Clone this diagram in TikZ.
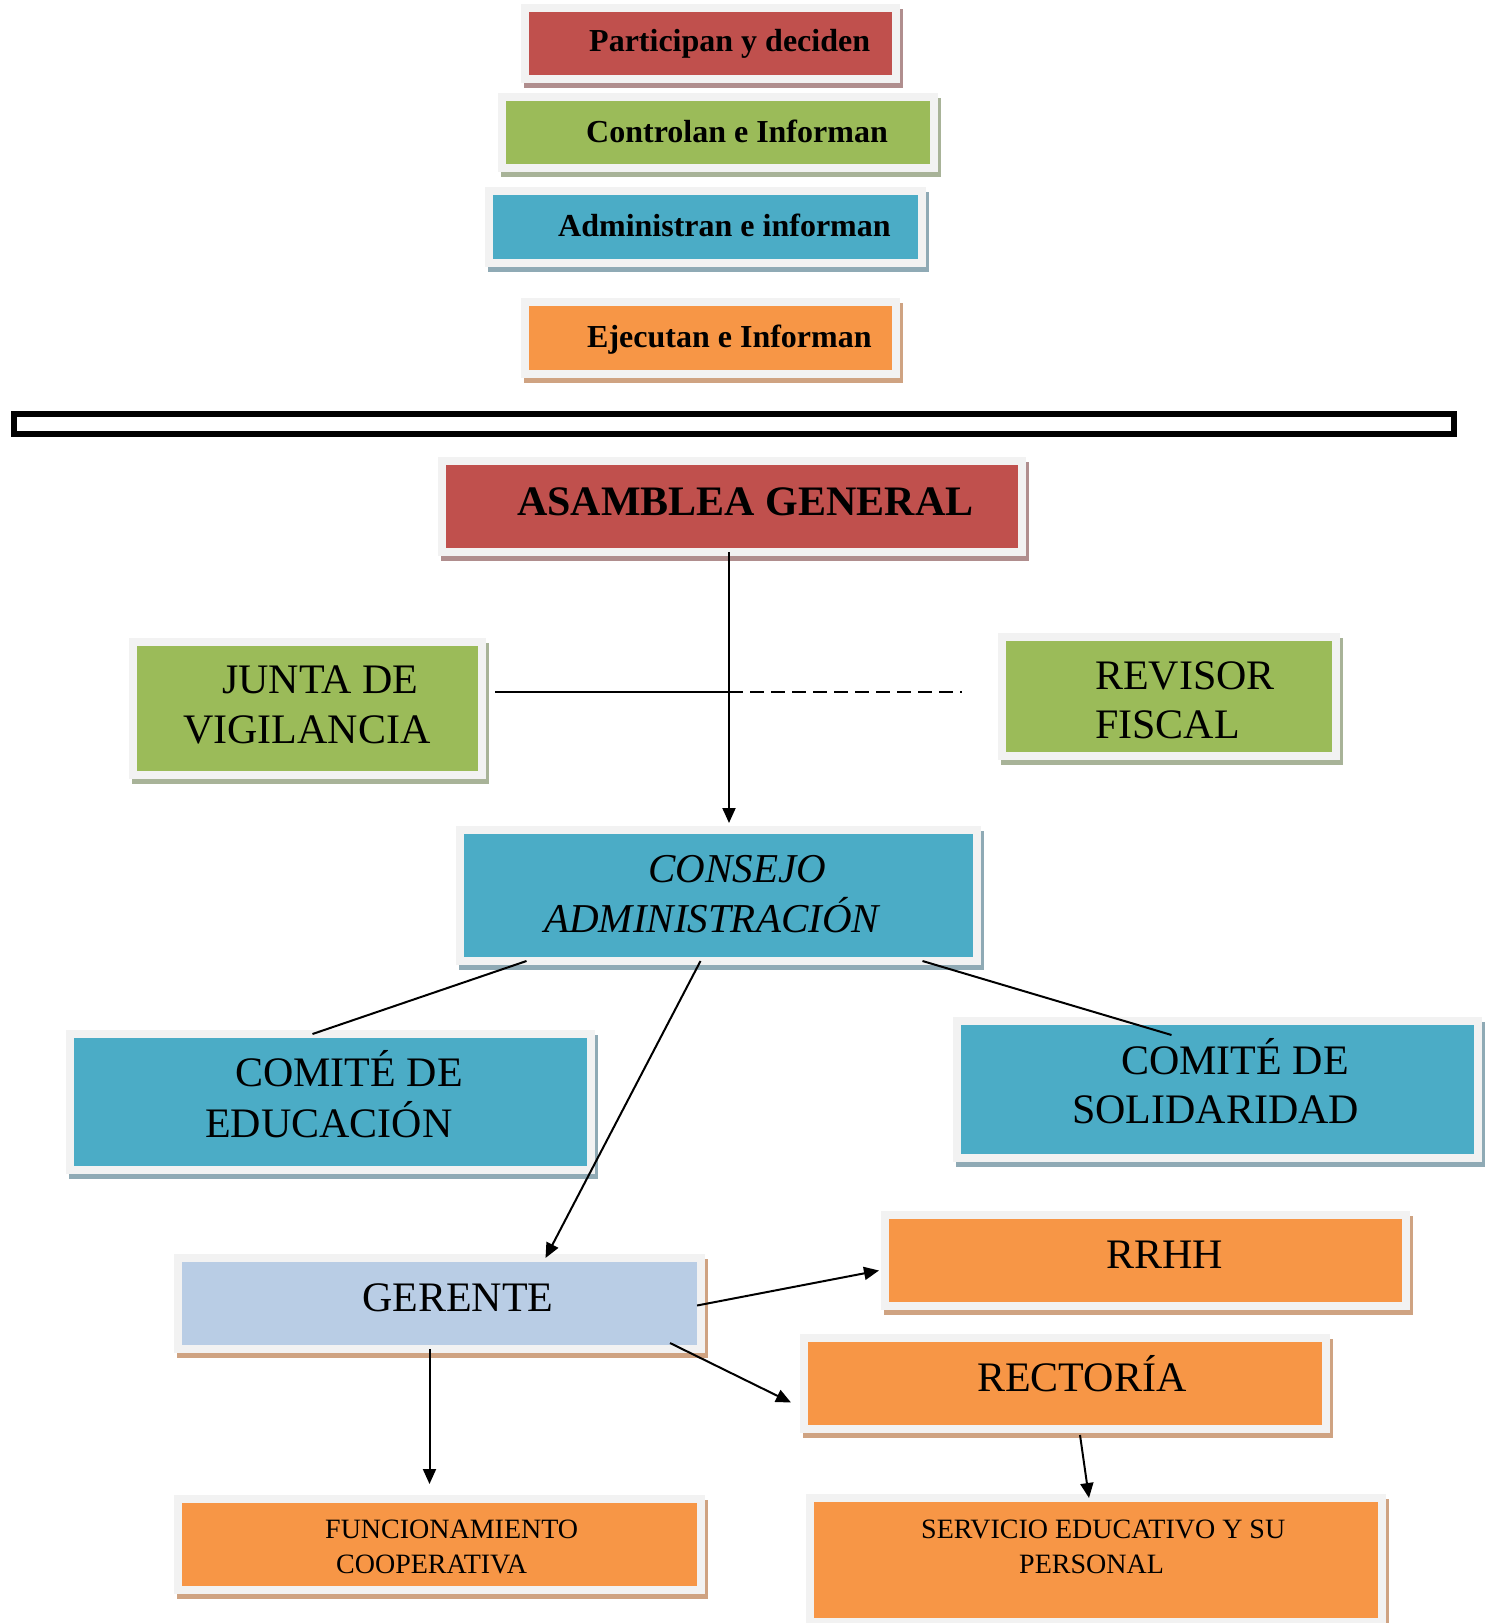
\documentclass[tikz,border=0pt]{standalone}
\usepackage{fontspec}
\setmainfont{Liberation Serif}
\usetikzlibrary{shadows,arrows.meta}

\definecolor{marco}{HTML}{F2F2F2}
\definecolor{rojo}{HTML}{C0504D}
\definecolor{rojosombra}{HTML}{B08E8E}
\definecolor{verde}{HTML}{9BBB59}
\definecolor{verdesombra}{HTML}{A8B398}
\definecolor{azul}{HTML}{4BACC6}
\definecolor{azulsombra}{HTML}{8FAAB5}
\definecolor{naranja}{HTML}{F79646}
\definecolor{naranjasombra}{HTML}{CFA382}
\definecolor{celeste}{HTML}{B9CDE5}

\tikzset{
  caja/.style 2 args={fill=#1, draw=marco, line width=8bp, inner sep=0pt, outer sep=0pt,
    drop shadow={shadow xshift=3bp, shadow yshift=-5bp, fill=#2, draw=#2, line width=8bp, opacity=1}},
  leyenda/.style={anchor=base west, inner sep=0pt, font=\fontsize{32bp}{38bp}\selectfont\bfseries},
  texto/.style={anchor=base west, inner sep=0pt, font=\fontsize{42bp}{50bp}\selectfont},
  cursiva/.style={anchor=base west, inner sep=0pt, font=\fontsize{41bp}{49bp}\selectfont\itshape},
  textito/.style={anchor=base west, inner sep=0pt, font=\fontsize{28bp}{34bp}\selectfont},
  linea/.style={line width=2bp},
  flecha/.style={line width=2bp, -{Triangle[length=15bp,width=13bp]}},
}

\begin{document}
\begin{tikzpicture}[x=1bp,y=-1bp]
\useasboundingbox (0,0) rectangle (1486,1623);

% leyenda
\node[caja={rojo}{rojosombra}, minimum width=371bp, minimum height=71bp] (participan) at (710.5,43.5) {};
\node[caja={verde}{verdesombra}, minimum width=432bp, minimum height=71bp] (controlan) at (718,132.5) {};
\node[caja={azul}{azulsombra}, minimum width=433bp, minimum height=72bp] (administran) at (705.5,227) {};
\node[caja={naranja}{naranjasombra}, minimum width=371bp, minimum height=72bp] (ejecutan) at (710.5,338) {};
\node[leyenda] (t-participan) at (589,52) {Participan y deciden};
\node[leyenda] (t-controlan) at (586,142) {Controlan e Informan};
\node[leyenda] (t-administran) at (558,236) {Administran e informan};
\node[leyenda] (t-ejecutan) at (587,347) {Ejecutan e Informan};

% barra
\draw[line width=6bp] (14,414) rectangle (1454,434);

% organigrama
\node[caja={rojo}{rojosombra}, minimum width=580bp, minimum height=91bp] (asamblea) at (732,506.5) {};
\node[caja={verde}{verdesombra}, minimum width=349bp, minimum height=133bp] (junta) at (307.5,708.5) {};
\node[caja={verde}{verdesombra}, minimum width=334bp, minimum height=119bp] (revisor) at (1169,696.5) {};
\node[caja={azul}{azulsombra}, minimum width=517bp, minimum height=131bp] (consejo) at (718.5,895.5) {};
\node[caja={azul}{azulsombra}, minimum width=521bp, minimum height=136bp] (educacion) at (330.5,1102) {};
\node[caja={azul}{azulsombra}, minimum width=521bp, minimum height=137bp] (solidaridad) at (1217.5,1089.5) {};
\node[caja={celeste}{naranjasombra}, minimum width=523bp, minimum height=91bp] (gerente) at (439.5,1303.5) {};
\node[caja={naranja}{naranjasombra}, minimum width=521bp, minimum height=91bp] (rrhh) at (1145.5,1260.5) {};
\node[caja={naranja}{naranjasombra}, minimum width=522bp, minimum height=91bp] (rectoria) at (1065,1383.5) {};
\node[caja={naranja}{naranjasombra}, minimum width=523bp, minimum height=91bp] (funcion) at (439.5,1544.5) {};
\node[caja={naranja}{naranjasombra}, minimum width=572bp, minimum height=124bp] (servicio) at (1096,1560) {};

\node[leyenda, font=\fontsize{42bp}{50bp}\selectfont\bfseries] (t-asamblea) at (517,515) {ASAMBLEA GENERAL};
\node[texto] (t-junta1) at (222,693) {JUNTA DE};
\node[texto] (t-junta2) at (183,743) {VIGILANCIA};
\node[texto] (t-revisor1) at (1095,689) {REVISOR};
\node[texto] (t-revisor2) at (1095,738) {FISCAL};
\node[cursiva] (t-consejo1) at (648,882) {CONSEJO};
\node[cursiva] (t-consejo2) at (544,932) {ADMINISTRACIÓN};
\node[texto] (t-educacion1) at (235,1086) {COMITÉ DE};
\node[texto] (t-educacion2) at (205,1137) {EDUCACIÓN};
\node[texto] (t-solidaridad1) at (1121,1074) {COMITÉ DE};
\node[texto] (t-solidaridad2) at (1072,1123) {SOLIDARIDAD};
\node[texto] (t-gerente) at (362,1311) {GERENTE};
\node[texto] (t-rrhh) at (1106,1268) {RRHH};
\node[texto] (t-rectoria) at (977,1391) {RECTORÍA};
\node[textito] (t-funcion1) at (325,1538) {FUNCIONAMIENTO};
\node[textito] (t-funcion2) at (336,1573) {COOPERATIVA};
\node[textito] (t-servicio1) at (921,1538) {SERVICIO EDUCATIVO Y SU};
\node[textito] (t-servicio2) at (1019,1573) {PERSONAL};

% conexiones
\coordinate (cruce) at (729,692);
\draw[flecha] ([xshift=-3bp]asamblea.south) -- ([xshift=-3bp,yshift=7bp]asamblea.south |- consejo.north);
\draw[linea] ([xshift=13bp]junta.east |- cruce) -- (cruce);
\draw[linea, dash pattern=on 14bp off 7bp] (cruce) -- ([xshift=-40bp]revisor.west |- cruce);
\draw[linea] ([xshift=-192bp]consejo.south) -- ([xshift=-18bp]educacion.north);
\draw[linea] ([xshift=204bp]consejo.south) -- ([xshift=-46bp,yshift=-14bp]solidaridad.north);
\draw[flecha] ([xshift=-18bp]consejo.south) -- ([xshift=106bp]gerente.north);
\draw[flecha] ([xshift=-4bp,yshift=-2bp]gerente.east) -- ([xshift=-6bp,yshift=-10bp]rrhh.west);
\draw[flecha] ([xshift=-31bp,yshift=6bp]gerente.south east) -- ([xshift=-13bp,yshift=-19bp]rectoria.west);
\draw[flecha] ([xshift=-10bp]gerente.south) -- ([xshift=-10bp,yshift=15bp]funcion.north);
\draw[flecha] ([xshift=15bp,yshift=-6bp]rectoria.south) -- ([xshift=-7bp]servicio.north);
\end{tikzpicture}
\end{document}
